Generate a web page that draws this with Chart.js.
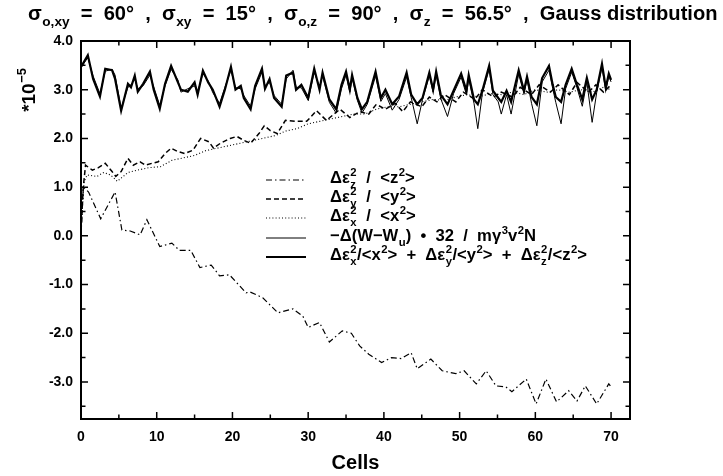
<!DOCTYPE html>
<html><head><meta charset="utf-8">
<script src="https://cdn.jsdelivr.net/npm/chart.js@4.4.1/dist/chart.umd.min.js"></script>
<style>html,body{margin:0;padding:0;background:#fff}#wrap{width:723px;height:476px;position:relative}</style>
</head><body><div id="wrap"><canvas id="c" width="723" height="476"></canvas></div>
<script>
// ---- data ----
const sumCells=[0,0.9,1.6,2.5,3.2,4.1,4.5,5.3,6.2,6.6,7.1,7.5,8.2,9.1,9.6,10.4,11.1,11.9,12.8,13.2,14.1,15.0,15.4,16.1,16.8,17.4,18.3,19.0,19.8,20.4,21.1,21.5,22.4,23.0,23.9,24.3,24.9,25.5,26.5,27.1,28.0,28.4,29.1,30.0,30.8,31.5,31.9,32.8,33.7,34.4,35.0,35.5,35.8,36.5,37.1,37.8,38.9,39.6,40.2,41.1,42.0,43.0,43.6,44.4,45.1,46.0,46.5,46.9,47.5,48.4,49.2,50.2,50.9,51.2,51.9,52.4,53.0,53.9,54.4,55.1,55.5,56.2,56.8,57.8,58.5,58.9,59.5,60.2,60.9,61.8,62.3,62.7,63.4,64.0,64.8,65.5,66.2,66.8,67.5,68.1,68.8,69.3,69.7,70.0];
const sumValues=[3.47,3.71,3.22,2.86,3.43,3.40,3.22,2.57,3.12,3.05,3.29,2.96,3.12,3.37,3.00,2.61,3.12,3.49,3.15,3.00,2.96,3.15,2.90,3.39,3.15,3.00,2.65,3.00,3.47,3.00,3.08,2.83,2.60,3.08,3.43,3.02,3.22,2.83,2.65,3.29,3.35,3.00,3.10,2.83,3.43,3.00,3.35,2.80,2.60,3.10,3.37,3.00,3.30,2.83,2.60,2.75,3.37,2.83,3.00,2.70,2.86,3.35,2.90,2.70,2.83,3.35,3.00,3.37,2.90,2.70,2.98,3.33,2.98,3.30,2.80,2.70,2.98,3.49,2.98,2.83,2.75,2.98,2.75,3.40,2.98,3.27,2.85,2.70,3.24,3.49,3.10,2.85,2.75,3.10,3.43,3.10,2.80,3.24,2.80,3.00,3.53,3.04,3.33,3.20];
const wCells=sumCells;
const wValues=[3.45,3.66,3.28,2.92,3.38,3.42,3.30,2.62,3.05,3.10,3.22,3.02,3.08,3.30,3.06,2.68,3.08,3.42,3.20,2.95,3.02,3.08,2.95,3.33,3.18,2.94,2.72,3.05,3.40,3.04,3.02,2.88,2.66,3.02,3.36,3.08,3.15,2.88,2.70,3.22,3.40,3.05,3.04,2.78,3.36,3.06,3.28,2.74,2.52,3.02,3.30,2.95,3.24,2.78,2.52,2.70,3.28,2.76,2.92,2.58,2.80,3.26,2.84,2.30,2.80,3.28,2.95,3.30,2.82,2.45,2.92,3.26,2.90,3.22,2.72,2.20,2.92,3.42,2.90,2.75,2.50,2.90,2.50,3.32,2.92,3.20,2.72,2.26,3.16,3.40,3.02,2.74,2.30,3.02,3.36,3.04,2.66,3.16,2.33,2.94,3.46,2.98,3.28,3.16];
const yCells=[0,0.3,0.6,1.5,2.3,3.2,4.1,4.6,5.3,6.2,6.9,7.8,8.5,9.4,10.2,11.1,11.9,12.8,13.7,14.8,15.8,16.9,17.5,18.4,19.7,20.6,21.5,22.4,23.5,24.2,25.0,25.9,27.0,28.3,29.8,31.1,32.4,34.2,35.5,36.8,38.0,39.0,40.2,41.5,42.5,43.5,45.0,46.0,47.0,48.0,49.5,50.5,52.0,53.0,54.5,55.5,57.0,58.0,59.5,60.5,62.0,63.0,64.5,65.5,67.0,68.0,69.0,70.0];
const yValues=[0.10,1.00,1.45,1.35,1.40,1.49,1.32,1.22,1.32,1.59,1.45,1.52,1.45,1.49,1.52,1.69,1.80,1.73,1.69,1.76,2.00,1.93,1.80,1.90,2.00,2.04,1.96,1.90,2.10,2.26,2.16,2.10,2.37,2.35,2.35,2.57,2.37,2.60,2.43,2.55,2.50,2.70,2.60,2.72,2.55,2.75,2.65,2.85,2.75,2.90,2.75,2.95,2.80,3.00,2.85,2.95,2.85,3.05,2.90,3.10,2.95,3.10,2.90,3.15,2.95,3.10,2.95,3.10];
const xCells=[0,0.4,0.8,2.1,3.0,3.9,4.8,6.2,7.5,9.0,10.5,12.0,13.5,15.0,16.5,18.0,19.5,21.0,22.5,24.0,25.7,27.0,28.5,30.0,31.5,33.0,34.5,36.0,37.5,39.0,40.5,42.0,43.5,45.0,46.5,48.0,49.5,51.0,52.5,54.0,55.5,57.0,58.5,60.0,61.5,63.0,64.5,66.0,67.5,69.0,70.0];
const xValues=[0.10,1.10,1.25,1.22,1.30,1.25,1.12,1.30,1.35,1.40,1.42,1.55,1.60,1.65,1.75,1.80,1.85,1.90,1.95,2.00,2.06,2.15,2.20,2.30,2.35,2.40,2.45,2.50,2.50,2.60,2.65,2.65,2.70,2.75,2.80,2.78,2.85,2.90,2.85,2.92,2.90,2.95,2.90,3.00,2.95,3.00,2.95,3.00,2.95,3.05,3.00];
const zCells=[0,0.3,1.0,2.6,4.5,5.4,6.5,7.8,8.7,10.4,12.0,13.0,14.5,15.7,17.2,18.3,19.6,21.8,22.3,24.0,26.0,28.0,29.3,30.0,31.5,32.8,34.5,35.7,36.8,38.0,39.7,41.0,42.3,43.6,44.4,46.2,47.7,49.5,50.6,52.2,53.5,54.8,56.1,56.9,58.8,60.1,61.4,62.8,64.4,65.5,66.6,68.1,69.7,70.0];
const zValues=[0.00,1.00,0.90,0.35,0.90,0.12,0.10,0.02,0.33,-0.22,-0.15,-0.30,-0.30,-0.65,-0.60,-0.82,-0.80,-1.17,-1.15,-1.27,-1.58,-1.50,-1.65,-1.88,-1.78,-2.18,-1.95,-2.00,-2.26,-2.43,-2.60,-2.50,-2.52,-2.40,-2.73,-2.53,-2.77,-2.83,-2.77,-3.04,-2.77,-3.08,-3.10,-3.20,-2.94,-3.45,-2.94,-3.41,-3.18,-3.39,-3.08,-3.45,-3.04,-3.10];
const xTickValues=[0,10,20,30,40,50,60,70];
const xTickLabels=['0','10','20','30','40','50','60','70'];
const xMinorTicks=[5,15,25,35,45,55,65];
const yTickValues=[-3,-2,-1,0,1,2,3,4];
const yTickLabels=['-3.0','-2.0','-1.0','0.0','1.0','2.0','3.0','4.0'];
const yMinorTicks=[-3.5,-2.5,-1.5,-0.5,0.5,1.5,2.5,3.5];

const FAM='"Liberation Sans", Arial, sans-serif';
const pts=(xs,ys)=>xs.map((c,i)=>({x:c,y:ys[i]}));

const styles=[
  {dash:[6,3,1.5,3],w:1.2},
  {dash:[5,3],w:1.5},
  {dash:[1,2.2],w:1.1},
  {dash:[],w:1.0},
  {dash:[],w:2.2}
];

// rich text helpers
function partsWidth(ctx,parts,size){
  let w=0;
  for(const p of parts){
    if(p[1]==='n'){ctx.font='bold '+size+'px '+FAM;w+=ctx.measureText(p[0]).width;}
    else if(p[1]==='ss'){ctx.font='bold '+(size*0.68)+'px '+FAM;w+=Math.max(ctx.measureText(p[0][0]).width,ctx.measureText(p[0][1]).width)+1;}
    else {ctx.font='bold '+(size*0.68)+'px '+FAM;w+=ctx.measureText(p[0]).width+0.5;}
  }
  return w;
}
function drawParts(ctx,parts,x,y,size){
  ctx.textBaseline='alphabetic';ctx.textAlign='left';
  for(const p of parts){
    if(p[1]==='n'){ctx.font='bold '+size+'px '+FAM;ctx.fillText(p[0],x,y);x+=ctx.measureText(p[0]).width;}
    else if(p[1]==='ss'){ctx.font='bold '+(size*0.68)+'px '+FAM;
      ctx.fillText(p[0][0],x+0.5,y-size*0.45);ctx.fillText(p[0][1],x+0.5,y+size*0.32);
      x+=Math.max(ctx.measureText(p[0][0]).width,ctx.measureText(p[0][1]).width)+1;}
    else if(p[1]==='sub'){ctx.font='bold '+(size*0.68)+'px '+FAM;ctx.fillText(p[0],x+0.5,y+size*0.3);x+=ctx.measureText(p[0]).width+0.5;}
    else {ctx.font='bold '+(size*0.68)+'px '+FAM;ctx.fillText(p[0],x+0.5,y-size*0.45);x+=ctx.measureText(p[0]).width+0.5;}
  }
}
const titleParts=[['σ','n'],['o,xy','sub'],['  =  60°  ,  σ','n'],['xy','sub'],['  =  15°  ,  σ','n'],['o,z','sub'],['  =  90°  ,  σ','n'],['z','sub'],['  =  56.5°  ,  Gauss distribution','n']];
const legendRows=[
  [['Δε','n'],[['2','z'],'ss'],['  /  <z','n'],['2','sup'],['>','n']],
  [['Δε','n'],[['2','y'],'ss'],['  /  <y','n'],['2','sup'],['>','n']],
  [['Δε','n'],[['2','x'],'ss'],['  /  <x','n'],['2','sup'],['>','n']],
  [['−Δ(W−W','n'],['u','sub'],[')  •  32  /  mγ','n'],['3','sup'],['v','n'],['2','sup'],['N','n']],
  [['Δε','n'],[['2','x'],'ss'],['/<x','n'],['2','sup'],['>  +  Δε','n'],[['2','y'],'ss'],['/<y','n'],['2','sup'],['>  +  Δε','n'],[['2','z'],'ss'],['/<z','n'],['2','sup'],['>','n']]
];

const decor={
  id:'decor',
  afterDraw(chart){
    const ctx=chart.ctx, a=chart.chartArea, xs=chart.scales.x, ys=chart.scales.y;
    ctx.save();
    ctx.strokeStyle='#000';ctx.fillStyle='#000';ctx.setLineDash([]);
    ctx.lineWidth=2;ctx.strokeRect(a.left,a.top,a.right-a.left,a.bottom-a.top);
    ctx.lineWidth=1.5;
    const tx=(v,len)=>{const p=xs.getPixelForValue(v);ctx.beginPath();ctx.moveTo(p,a.bottom);ctx.lineTo(p,a.bottom-len);ctx.moveTo(p,a.top);ctx.lineTo(p,a.top+len);ctx.stroke();};
    const ty=(v,len)=>{const p=ys.getPixelForValue(v);ctx.beginPath();ctx.moveTo(a.left,p);ctx.lineTo(a.left+len,p);ctx.moveTo(a.right,p);ctx.lineTo(a.right-len,p);ctx.stroke();};
    xTickValues.forEach(v=>tx(v,7));xMinorTicks.forEach(v=>tx(v,4.5));
    yTickValues.forEach(v=>ty(v,7));yMinorTicks.forEach(v=>ty(v,4.5));
    let ts=17;const tw=partsWidth(ctx,titleParts,ts);ts=ts*690/tw;
    drawParts(ctx,titleParts,28,20,ts);
    ctx.save();ctx.translate(35,90);ctx.rotate(-Math.PI/2);
    const yt=[['*10','n'],['−5','sup']];const ysz=19;const yw=partsWidth(ctx,yt,ysz);
    drawParts(ctx,yt,-yw/2,0,ysz);ctx.restore();
    let ls=14;const lw=partsWidth(ctx,legendRows[4],ls);ls=ls*258/lw;
    const rowsY=[180,199,218,238,257];
    legendRows.forEach((r,i)=>{
      const st=styles[i];
      ctx.save();ctx.lineWidth=st.w;ctx.setLineDash(st.dash);ctx.strokeStyle='#000';
      ctx.beginPath();ctx.moveTo(266,rowsY[i]);ctx.lineTo(306,rowsY[i]);ctx.stroke();ctx.restore();
      drawParts(ctx,r,330,rowsY[i]+3,ls);
    });
    ctx.restore();
  }
};

const ds=(data,i)=>({data,borderColor:'#000',borderWidth:styles[i].w,borderDash:styles[i].dash,pointRadius:0,tension:0,fill:false});

new Chart(document.getElementById('c'),{
  type:'line',
  data:{datasets:[ds(pts(zCells,zValues),0),ds(pts(yCells,yValues),1),ds(pts(xCells,xValues),2),ds(pts(wCells,wValues),3),ds(pts(sumCells,sumValues),4)]},
  options:{
    responsive:false,animation:false,devicePixelRatio:1,
    layout:{padding:{top:41,right:93,left:0,bottom:0}},
    plugins:{legend:{display:false},tooltip:{enabled:false},title:{display:false}},
    scales:{
      x:{type:'linear',min:0,max:72.5,
        afterFit(s){s.height=57;},
        afterBuildTicks(s){s.ticks=xTickValues.map(v=>({value:v}));},
        grid:{display:false,drawTicks:false},border:{display:false},
        ticks:{color:'#000',font:{family:FAM,weight:'bold',size:14},padding:10,maxRotation:0,autoSkip:false,
          callback:(v)=>xTickLabels[xTickValues.indexOf(v)]},
        title:{display:true,text:'Cells',color:'#000',font:{family:FAM,weight:'bold',size:20},padding:{top:0,bottom:1}}
      },
      y:{type:'linear',min:-3.76,max:4.0,
        afterFit(s){s.width=81;},
        afterBuildTicks(s){s.ticks=yTickValues.map(v=>({value:v}));},
        grid:{display:false,drawTicks:false},border:{display:false},
        ticks:{color:'#000',font:{family:FAM,weight:'bold',size:14},padding:8,autoSkip:false,
          callback:(v)=>yTickLabels[yTickValues.indexOf(v)]}
      }
    }
  },
  plugins:[decor]
});
</script></body></html>
